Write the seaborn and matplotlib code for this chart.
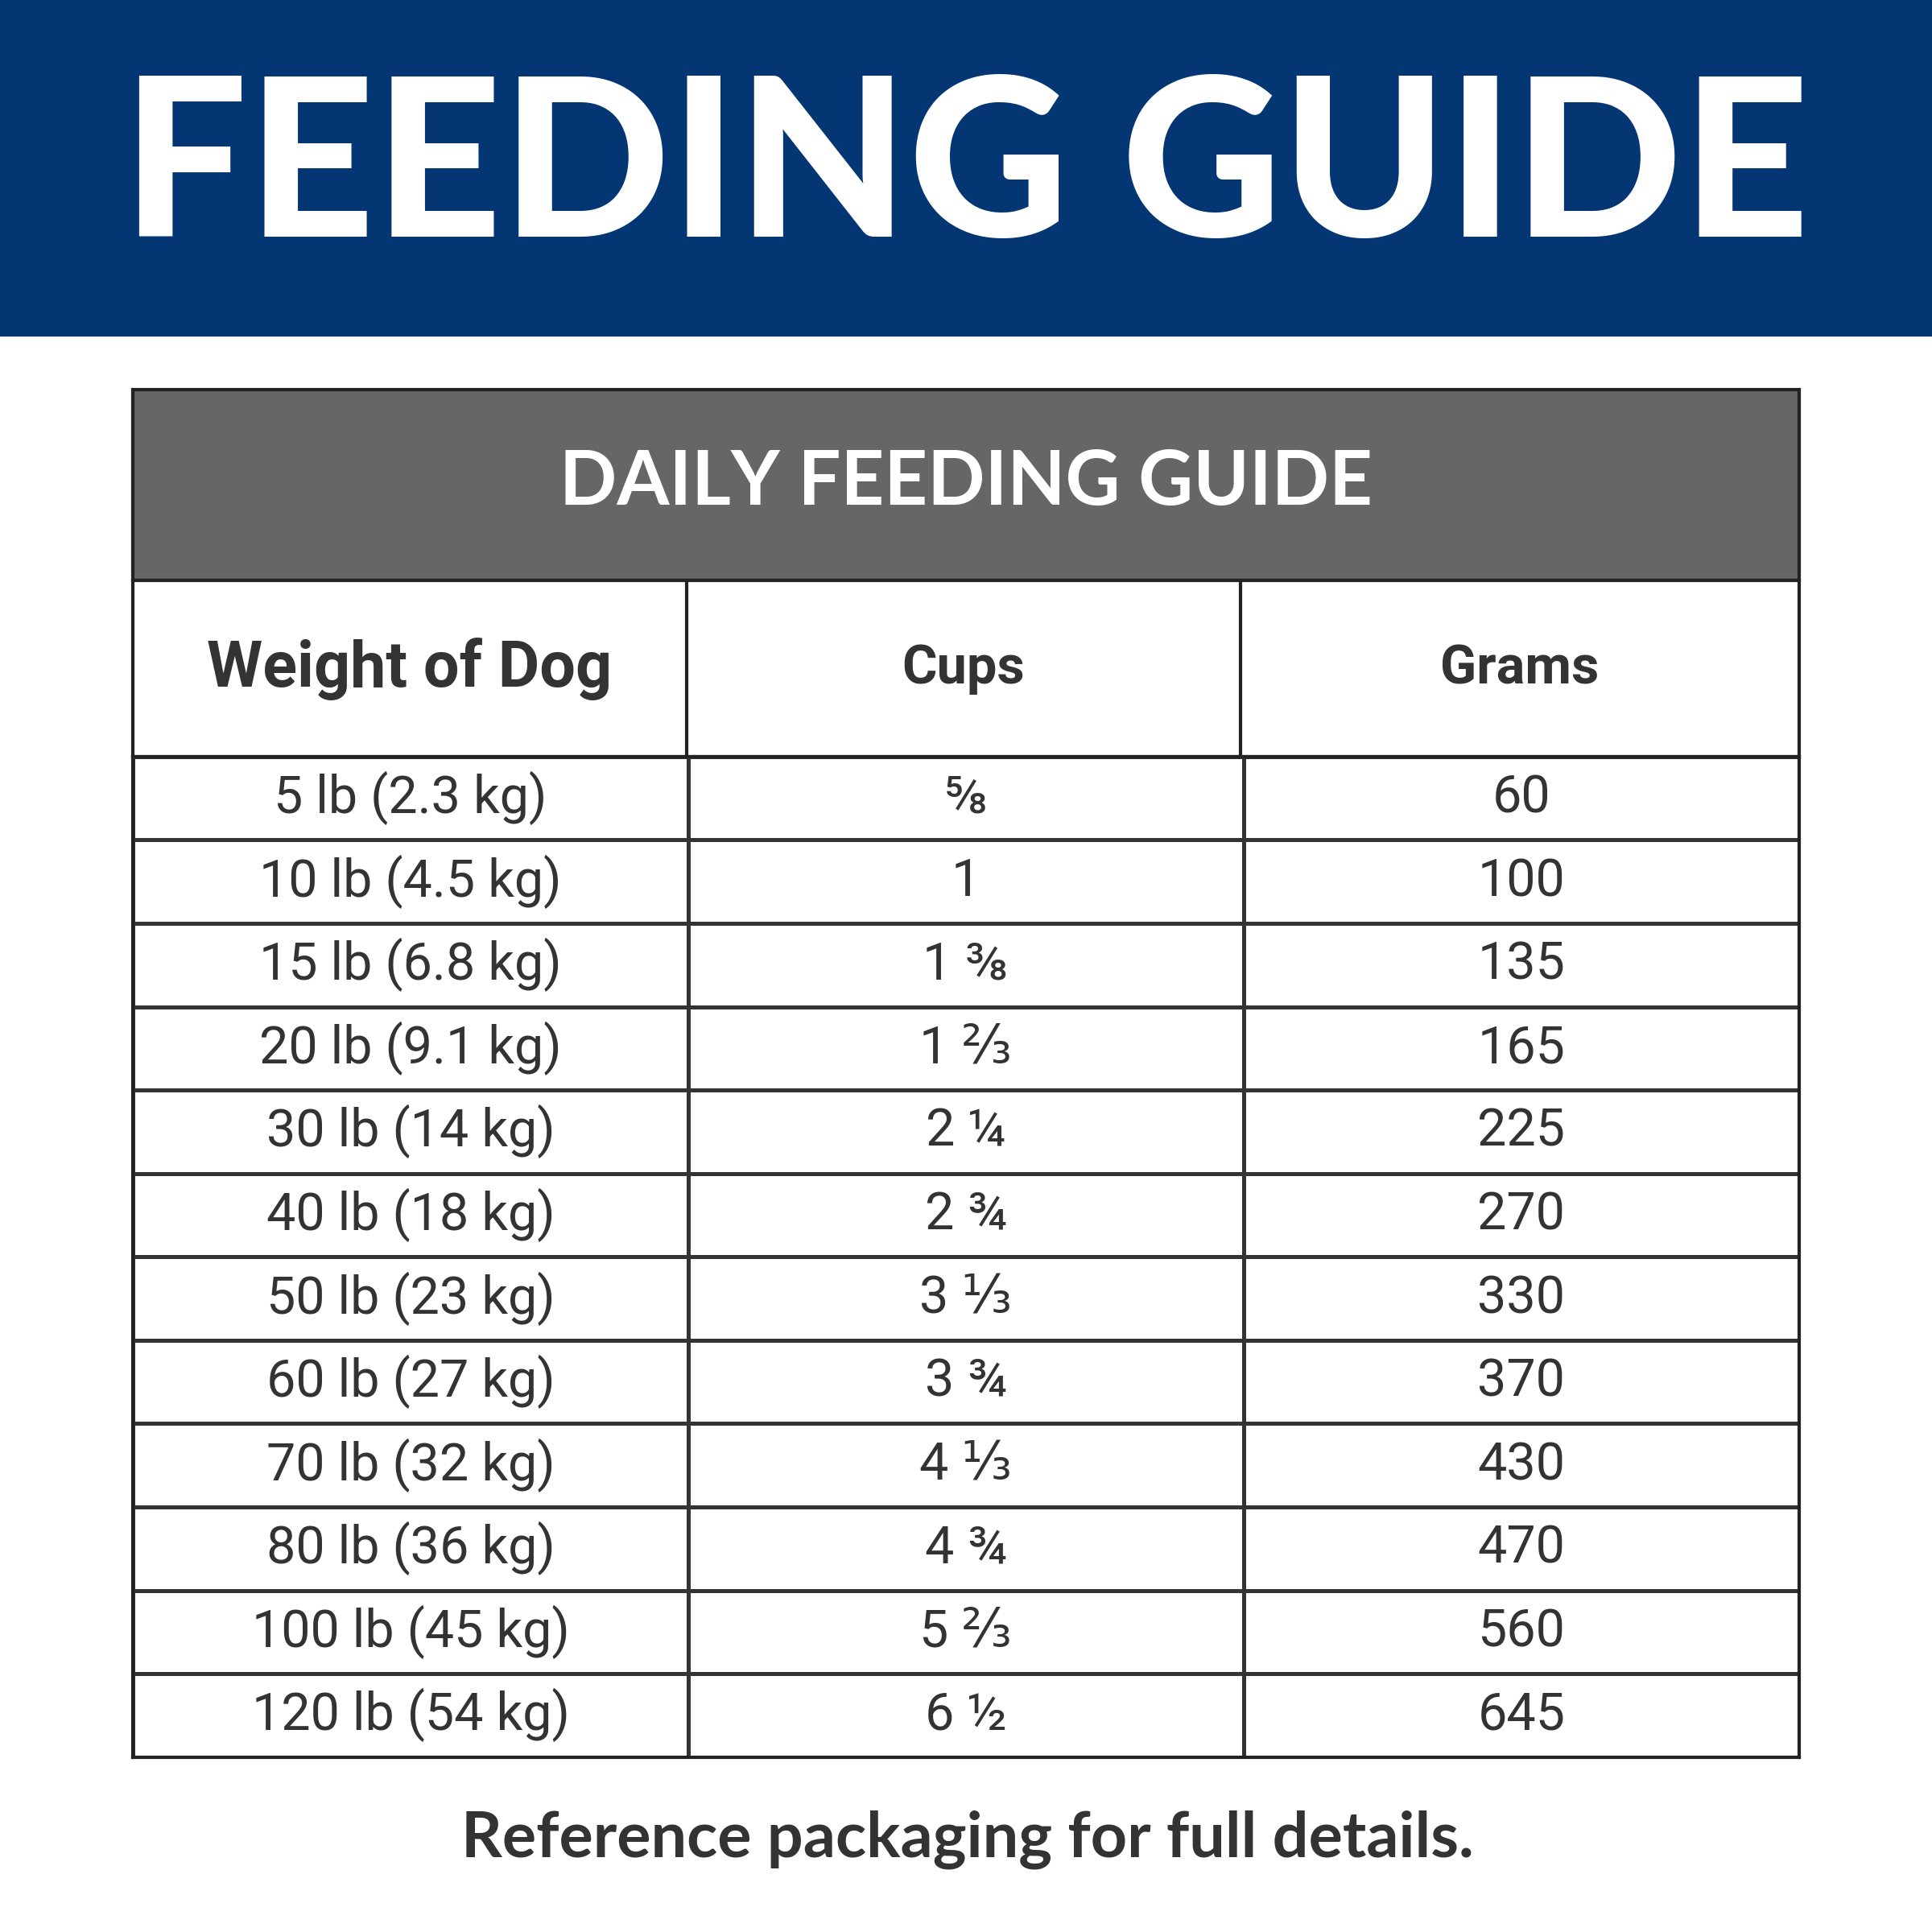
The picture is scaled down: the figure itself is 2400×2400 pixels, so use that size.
import matplotlib.pyplot as plt
import matplotlib.patches as patches
import numpy as np
import seaborn as sns

sns.set_theme(style="white")
plt.rcParams['font.family'] = ['Roboto', 'DejaVu Sans']

# table data
weights = ['5 lb (2.3 kg)', '10 lb (4.5 kg)', '15 lb (6.8 kg)', '20 lb (9.1 kg)',
           '30 lb (14 kg)', '40 lb (18 kg)', '50 lb (23 kg)', '60 lb (27 kg)',
           '70 lb (32 kg)', '80 lb (36 kg)', '100 lb (45 kg)', '120 lb (54 kg)']
cups = ['⅝', '1', '1 ⅜', '1 ⅔', '2 ¼', '2 ¾', '3 ⅓', '3 ¾', '4 ⅓', '4 ¾', '5 ⅔', '6 ½']
grams = ['60', '100', '135', '165', '225', '270', '330', '370', '430', '470', '560', '645']
columns = ['Weight of Dog', 'Cups', 'Grams']

BLUE = '#043673'
GRAY = '#666666'
TEXT = '#333333'
W = 1568

fig = plt.figure(figsize=(8, 8), dpi=300)
bg = fig.add_axes([0, 0, 1, 1])
bg.set_xlim(0, W)
bg.set_ylim(W, 0)
bg.axis('off')

# banner
bg.add_patch(patches.Rectangle((0, 0), W, 272, color=BLUE))
bg.text(W / 2, 140, 'FEEDING GUIDE', color='white', fontsize=66, fontweight='black',
        family=['Lato', 'DejaVu Sans'], ha='center', va='center')

# gray header
x0, x1 = 108, 1460
bg.add_patch(patches.Rectangle((x0, 316), x1 - x0, 155, facecolor=GRAY,
                               edgecolor='#222222', lw=1))
bg.text(W / 2, 392, 'DAILY FEEDING GUIDE', color='white', fontsize=22.5,
        fontweight='bold', family=['Lato', 'DejaVu Sans'], ha='center', va='center')

# column header row
bg.add_patch(patches.Rectangle((x0, 471), x1 - x0, 143, facecolor='white',
                               edgecolor='#222222', lw=1))
col_x = [108, 557, 1007, 1460]
for i, c in enumerate(columns):
    bg.text((col_x[i] + col_x[i + 1]) / 2, 543, c, color=TEXT,
            fontsize=19 if i == 0 else 16, fontweight='bold', ha='center', va='center')
for xv in col_x[1:3]:
    bg.plot([xv, xv], [471, 614], color='#222222', lw=1)

# data rows via seaborn heatmap
annot = np.array([weights, cups, grams]).T
hax = fig.add_axes([x0 / W, 1 - 1426 / W, (x1 - x0) / W, (1426 - 614) / W])
sns.heatmap(np.zeros(annot.shape), ax=hax, cmap=['white'], cbar=False,
            annot=annot, fmt='', linewidths=0.8, linecolor='#333333',
            annot_kws={'color': TEXT, 'fontsize': 15.5})
hax.set_xticks([])
hax.set_yticks([])
for s in hax.spines.values():
    s.set_visible(True)
    s.set_color('#222222')
    s.set_linewidth(1)

# footer
bg.text(785, 1493, 'Reference packaging for full details.', color=TEXT, fontsize=19,
        fontweight='bold', family=['Lato', 'DejaVu Sans'], ha='center', va='center')

fig.savefig('out.png', dpi=300, facecolor='white')
